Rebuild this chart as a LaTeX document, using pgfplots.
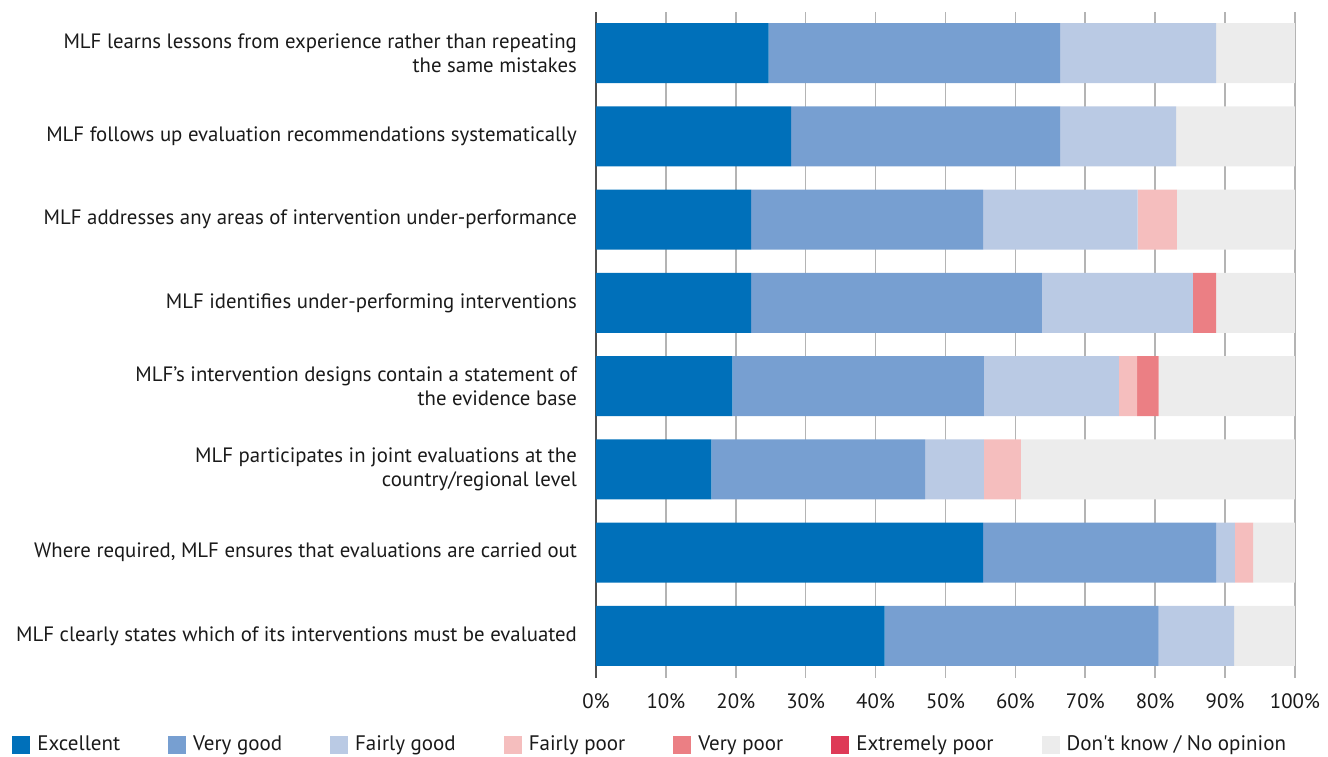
\documentclass[border=0pt]{standalone}
\usepackage{fontspec}
\setmainfont{PT Sans}
\usepackage{pgfplots}
\pgfplotsset{compat=1.18}

\definecolor{cExc}{HTML}{0070BA}
\definecolor{cVG}{HTML}{779FD1}
\definecolor{cFG}{HTML}{BACAE4}
\definecolor{cFP}{HTML}{F5BEBE}
\definecolor{cVP}{HTML}{EB7F84}
\definecolor{cEP}{HTML}{DE3A57}
\definecolor{cDK}{HTML}{ECECEC}
\definecolor{gridgray}{HTML}{B4B4B4}
\definecolor{axisgray}{HTML}{505050}
\definecolor{txt}{HTML}{1A1A1A}

\begin{document}
\begin{tikzpicture}
\begin{axis}[
    at={(0,0)}, anchor=south west,
    scale only axis,
    width=349.5pt, height=333pt,
    xbar stacked,
    bar width=30pt,
    xmin=0, xmax=100,
    ymin=-0.5, ymax=7.5,
    xtick={0,10,...,100},
    xticklabel={\pgfmathprintnumber{\tick}\%},
    /pgf/number format/assume math mode=true,
    ytick={0,...,7},
    yticklabels={
        {MLF clearly states which of its interventions must be evaluated},
        {Where required, MLF ensures that evaluations are carried out},
        {MLF participates in joint evaluations at the\\country/regional level},
        {MLF’s intervention designs contain a statement of\\the evidence base},
        {MLF identifies under-performing interventions},
        {MLF addresses any areas of intervention under-performance},
        {MLF follows up evaluation recommendations systematically},
        {MLF learns lessons from experience rather than repeating\\the same mistakes}
    },
    axis line style={draw=none},
    major tick length=0pt,
    xmajorgrids,
    grid style={color=gridgray, line width=0.8pt},
    font=\fontsize{10.4}{12}\selectfont,
    every tick label/.append style={text=txt},
    yticklabel style={align=right, xshift=-6pt},
    xticklabel style={yshift=-4.5pt},
    clip=false,
    every axis plot/.append style={draw=none},
    legend columns=7,
    legend image code/.code={\fill[#1] (0pt,-4.5pt) rectangle (9pt,4.5pt);},
    legend style={
        at={(0,0)}, anchor=west, xshift=-292pt, yshift=-33.5pt,
        draw=none, fill=none, inner sep=0pt,
        font=\fontsize{10.5}{12}\selectfont, text=txt,
        /tikz/every odd column/.append style={column sep=1.5pt},
        /tikz/every even column/.append style={column sep=22pt},
    },
]
\addplot[fill=cExc] coordinates {(41.3,0)(55.4,1)(16.5,2)(19.5,3)(22.2,4)(22.2,5)(27.9,6)(24.7,7)};
\addplot[fill=cVG] coordinates {(39.2,0)(33.3,1)(30.6,2)(36.0,3)(41.6,4)(33.2,5)(38.5,6)(41.7,7)};
\addplot[fill=cFG] coordinates {(10.8,0)(2.7,1)(8.4,2)(19.3,3)(21.6,4)(22.1,5)(16.6,6)(22.3,7)};
\addplot[fill=cFP] coordinates {(0,0)(2.6,1)(5.3,2)(2.6,3)(0,4)(5.6,5)(0,6)(0,7)};
\addplot[fill=cVP] coordinates {(0,0)(0,1)(0,2)(3.1,3)(3.3,4)(0,5)(0,6)(0,7)};
\addplot[fill=cEP] coordinates {(0,0)(0,1)(0,2)(0,3)(0,4)(0,5)(0,6)(0,7)};
\addplot[fill=cDK] coordinates {(8.7,0)(6.0,1)(39.2,2)(19.5,3)(11.3,4)(16.9,5)(17.0,6)(11.3,7)};
\legend{Excellent, Very good, Fairly good, Fairly poor, Very poor, Extremely poor, Don\textquotesingle t know / No opinion}
\draw[color=axisgray, line width=1pt] (axis cs:0,-0.5) -- (axis cs:0,7.5);
\end{axis}
\pgfresetboundingbox
\useasboundingbox (-298pt,-39.25pt) rectangle (366pt,338.75pt);
\end{tikzpicture}
\end{document}
